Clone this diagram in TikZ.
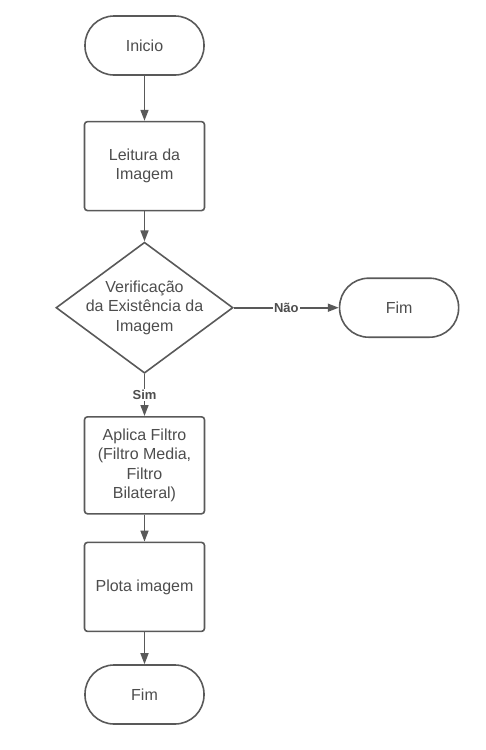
\documentclass[tikz,border=0pt]{standalone}
\usepackage{fontspec}
\setmainfont{Liberation Sans}
\usepackage{xcolor}
\usetikzlibrary{positioning, shapes.geometric, arrows.meta}
\definecolor{linegray}{HTML}{595959}
\definecolor{textgray}{HTML}{4D4D4D}

\begin{document}
\begin{tikzpicture}[
    x=1pt, y=1pt,
    node distance=30pt,
    font=\fontsize{16}{19.5}\selectfont, text=textgray,
    terminal/.style={draw=linegray, line width=1.6pt, rectangle, rounded corners=29pt, minimum width=119pt, minimum height=59pt},
    block/.style={draw=linegray, line width=1.6pt, rectangle, rounded corners=3pt, minimum width=120pt, minimum height=89pt, align=center},
    decision/.style={draw=linegray, line width=1.6pt, diamond, minimum width=177pt, minimum height=131pt, inner sep=0pt},
    answer/.style={fill=white, inner sep=1pt, font=\bfseries\fontsize{13}{15}\selectfont},
    arrow/.style={draw=linegray, line width=1.6pt, -{Triangle[length=11pt, width=8pt]}}
]
\useasboundingbox (0,0) rectangle (486,-750);

\node[terminal] (inicio) at (144.5,-45.5) {Inicio};
\node[block, below=45pt of inicio] (leitura) {Leitura da\\Imagem};
\node[decision, below=of leitura,
      label={[align=center, text=textgray]center:Verificação\\da Existência da\\Imagem}] (check) {};
\node[terminal, right=105pt of check] (fimnao) {Fim};
\node[block, below=42pt of check, minimum height=97pt] (filtro) {Aplica Filtro\\(Filtro Media,\\Filtro\\Bilateral)};
\node[block, below=27pt of filtro] (plota) {Plota imagem};
\node[terminal, below=32pt of plota] (fim) {Fim};

\draw[arrow] (inicio) -- (leitura);
\draw[arrow] (leitura) -- (check);
\draw[arrow] (check) -- node[answer] {Não} (fimnao);
\draw[arrow] (check) -- node[answer] {Sim} (filtro);
\draw[arrow] (filtro) -- (plota);
\draw[arrow] (plota) -- (fim);
\end{tikzpicture}
\end{document}
